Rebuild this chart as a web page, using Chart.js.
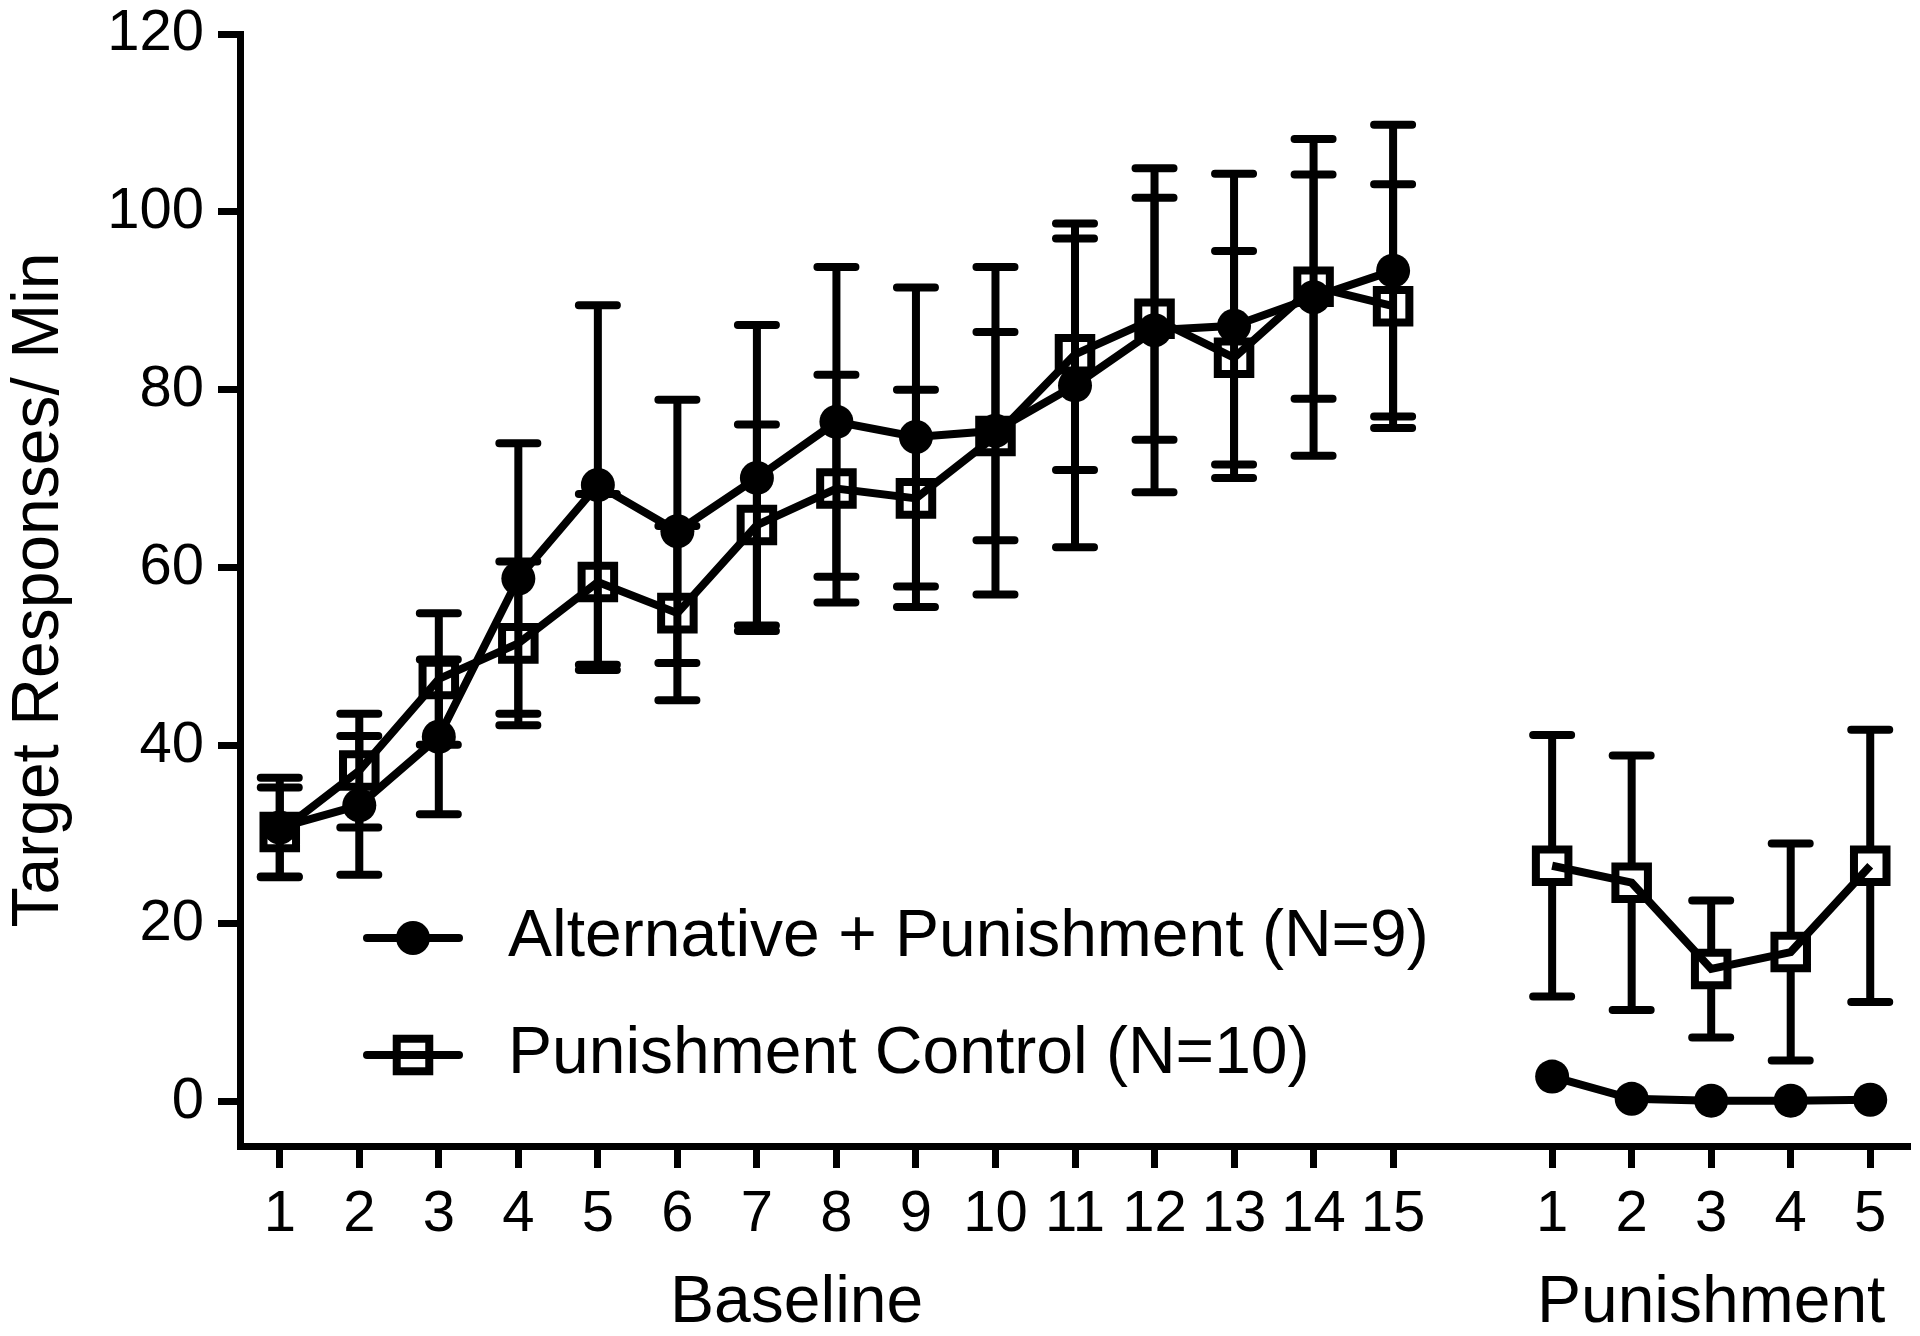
<!DOCTYPE html>
<html lang="en">
<head>
<meta charset="utf-8">
<script src="https://cdn.jsdelivr.net/npm/chart.js@4.4.1/dist/chart.umd.min.js"></script>
<style>
    body { margin: 0; background: #fff; }
    #wrap { width: 1920px; height: 1336px; }
</style>
</head>
<body>
<div id="wrap"><canvas id="myChart"></canvas></div>
<script>
// sessions: 15 baseline, one empty slot, 5 punishment
var sessionLabels = ['1','2','3','4','5','6','7','8','9','10','11','12','13','14','15','','1','2','3','4','5'];
var yTicks = [0, 20, 40, 60, 80, 100, 120];

// Alternative + Punishment (N=9): mean and error
var altPunishment    = [30.8, 33.3, 41.0, 58.8, 69.3, 64.1, 70.1, 76.4, 74.7, 75.4, 80.5, 86.7, 87.2, 90.4, 93.4, null, 2.8, 0.3, 0.1, 0.1, 0.2];
var altPunishmentErr = [5.6, 7.8, 8.7, 15.2, 20.2, 14.8, 17.2, 17.4, 16.8, 18.4, 18.2, 18.2, 17.1, 17.8, 16.4, null, 1.2, 0.4, 0.1, 0.1, 0.2];

// Punishment Control (N=10): mean and error
var punControl    = [30.3, 37.2, 47.5, 51.5, 58.4, 54.9, 64.8, 68.9, 67.8, 74.8, 84.0, 88.0, 83.6, 91.6, 89.4, null, 26.5, 24.6, 14.9, 16.8, 26.5];
var punControlErr = [5.0, 6.4, 7.4, 9.2, 9.9, 9.8, 11.3, 12.8, 12.2, 11.7, 13.0, 13.6, 12.0, 12.6, 13.7, null, 14.7, 14.3, 7.7, 12.2, 15.3];

var FONT = "'Liberation Sans', Arial, Helvetica, sans-serif";
var LW = 8;

// error bars, stopped at the edge of the symbol
var errorBars = {
    id: 'errorBars',
    beforeDatasetsDraw: function(chart) {
        var ctx = chart.ctx, xs = chart.scales.x, ys = chart.scales.y;
        chart.data.datasets.forEach(function(ds) {
            ctx.save();
            ctx.strokeStyle = '#000';
            ctx.lineWidth = LW;
            ctx.lineCap = 'round';
            ds.data.forEach(function(v, i) {
                var e = ds.errors[i];
                if (v === null || e === null) return;
                var x = xs.getPixelForValue(i), y = ys.getPixelForValue(v);
                var up = ys.getPixelForValue(v + e), dn = ys.getPixelForValue(v - e);
                if (y - up <= ds.minBar) return;
                ctx.beginPath();
                ctx.moveTo(x, y - ds.barGap); ctx.lineTo(x, up);
                ctx.moveTo(x, y + ds.barGap); ctx.lineTo(x, dn);
                ctx.moveTo(x - 19, up); ctx.lineTo(x + 19, up);
                ctx.moveTo(x - 19, dn); ctx.lineTo(x + 19, dn);
                ctx.stroke();
            });
            ctx.restore();
        });
    }
};

// legend inside the plot and the two phase titles under the axis
var extras = {
    id: 'extras',
    afterDraw: function(chart) {
        var ctx = chart.ctx, a = chart.chartArea, xs = chart.scales.x;
        ctx.save();
        chart.data.datasets.forEach(function(ds, k) {
            var cy = a.top + 904 + k * 117, x0 = a.left + 127, x1 = a.left + 219, cx = (x0 + x1) / 2;
            ctx.strokeStyle = '#000';
            ctx.fillStyle = '#000';
            ctx.lineWidth = LW;
            ctx.lineCap = 'round';
            ctx.beginPath(); ctx.moveTo(x0, cy); ctx.lineTo(x1, cy); ctx.stroke();
            if (ds.pointStyle === 'circle') {
                ctx.beginPath(); ctx.arc(cx, cy, ds.pointRadius, 0, Math.PI * 2); ctx.fill();
            } else {
                var h = ds.pointRadius * Math.SQRT1_2;
                ctx.lineCap = 'butt';
                ctx.strokeRect(cx - h, cy - h, 2 * h, 2 * h);
            }
            ctx.font = '66px ' + FONT;
            ctx.textAlign = 'left';
            ctx.textBaseline = 'middle';
            ctx.fillText(ds.label, a.left + 268, cy);
        });
        ctx.font = '66px ' + FONT;
        ctx.textAlign = 'center';
        ctx.textBaseline = 'alphabetic';
        ctx.fillStyle = '#000';
        ctx.fillText('Baseline', xs.getPixelForValue(6.5), 1322);
        ctx.fillText('Punishment', xs.getPixelForValue(18), 1322);
        ctx.restore();
    }
};

var ctx = document.getElementById('myChart').getContext('2d');
var chart = new Chart(ctx, {
    type: 'line',
    data: {
        labels: sessionLabels,
        datasets: [
            {
                label: 'Alternative + Punishment (N=9)',
                data: altPunishment,
                errors: altPunishmentErr,
                borderColor: '#000',
                borderWidth: LW,
                pointStyle: 'circle',
                pointRadius: 17,
                pointBackgroundColor: '#000',
                pointBorderColor: '#000',
                pointBorderWidth: 0,
                tension: 0,
                spanGaps: false,
                barGap: 0,
                minBar: 17
            },
            {
                label: 'Punishment Control (N=10)',
                data: punControl,
                errors: punControlErr,
                borderColor: '#000',
                borderWidth: LW,
                pointStyle: 'rect',
                pointRadius: 23,
                pointBackgroundColor: 'rgba(0,0,0,0)',
                pointBorderColor: '#000',
                pointBorderWidth: LW,
                tension: 0,
                spanGaps: false,
                barGap: 19,
                minBar: 20
            }
        ]
    },
    options: {
        responsive: true,
        maintainAspectRatio: false,
        animation: false,
        layout: { autoPadding: false, padding: { top: 34, right: 10, left: 0, bottom: 0 } },
        plugins: { legend: { display: false }, tooltip: { enabled: false } },
        scales: {
            x: {
                offset: true,
                afterFit: function(s) {
                    s.height = 190;
                    s.paddingLeft = 0; s.paddingRight = 0;
                },
                border: { color: '#000', width: 7 },
                grid: {
                    drawOnChartArea: false,
                    tickLength: 22,
                    tickWidth: 7,
                    tickColor: function(c) { return c.index === 15 ? 'rgba(0,0,0,0)' : '#000'; }
                },
                ticks: { color: '#000', font: { size: 58, family: FONT }, padding: 12, maxRotation: 0, autoSkip: false }
            },
            y: {
                min: -5,
                max: 120,
                afterBuildTicks: function(s) { s.ticks = yTicks.map(function(v) { return { value: v }; }); },
                afterFit: function(s) {
                    s.width = 240;
                    s.paddingTop = 0; s.paddingBottom = 0;
                },
                border: { color: '#000', width: 7 },
                grid: { drawOnChartArea: false, tickLength: 22, tickWidth: 7, tickColor: '#000' },
                ticks: { color: '#000', font: { size: 58, family: FONT }, padding: 14 },
                title: {
                    display: true,
                    text: 'Target Responses/ Min',
                    color: '#000',
                    font: { size: 66, family: FONT },
                    padding: { top: 0, bottom: 0 }
                }
            }
        }
    },
    plugins: [errorBars, extras]
});
</script>
</body>
</html>
